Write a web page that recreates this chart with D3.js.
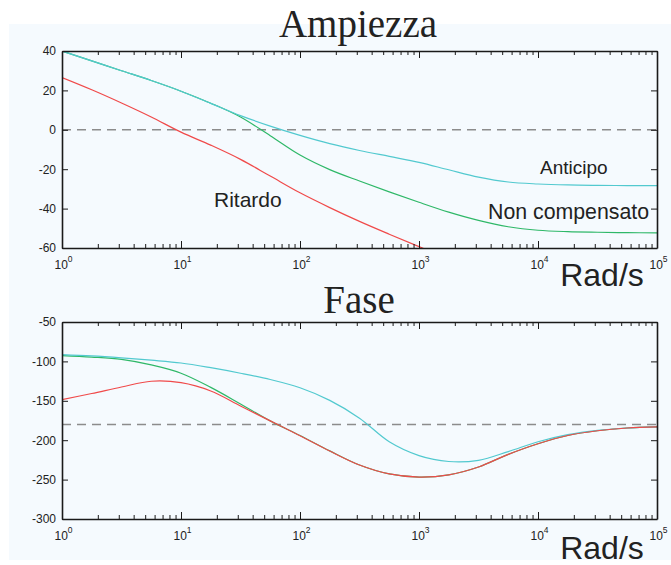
<!DOCTYPE html>
<html>
<head>
<meta charset="utf-8">
<script src="https://cdn.jsdelivr.net/npm/d3@7"></script>
<style>
  html, body { margin: 0; padding: 0; background: #ffffff; }
  svg { display: block; }
</style>
</head>
<body>
<svg id="chart" width="671" height="565"></svg>
<script>
// Frequencies in rad/s (quarter-decade steps)
const freq = [1, 1.778, 3.162, 5.623, 10, 17.78, 31.62, 56.23, 100, 177.8, 316.2, 562.3,
              1000, 1778, 3162, 5623, 10000, 17783, 31623, 56234, 100000];

// Magnitude (dB)
const magNonCompensato = [40, 35, 30, 25, 19.6, 13.5, 6.5, -3, -12.8, -20.2, -26, -31.5,
                          -36.8, -41.8, -46, -49.2, -51, -51.7, -52, -52.2, -52.3];
const magAnticipo = [40, 35, 30, 25, 19.6, 13.4, 7.2, 1.9, -2.8, -7, -10.5, -13.5,
                     -16.5, -20.3, -24, -26.5, -27.5, -28, -28.2, -28.3, -28.3];
const magRitardo = [26.5, 20.3, 13.6, 6.5, -1.2, -7.8, -15, -23.5, -32, -39.5, -46.5, -53,
                    -59.3, -65.5, null, null, null, null, null, null, null];

// Phase (degrees)
const phaseNonCompensato = [-92.6, -94.5, -97.5, -104.5, -115, -133, -154, -175.5, -194, -213.5, -231.5, -242.8,
                            -246.8, -244, -234, -218, -204.5, -194, -188, -184.5, -183];
const phaseAnticipo = [-91.3, -93, -95.5, -98.5, -102, -108, -115, -123, -133.5, -149.5, -172, -202,
                       -219.5, -227, -225.5, -214.5, -202, -193, -187.5, -184.5, -183];
const phaseRitardo = [-148.4, -140.7, -132.5, -125.2, -127, -137.5, -156.5, -175.5, -194.3, -213.8, -231.5, -242.8,
                      -246.8, -244, -234, -218, -204.5, -194, -188, -184.5, -183];

const xTicks = [1, 10, 100, 1000, 10000, 100000];
const xExponents = ["0", "1", "2", "3", "4", "5"];
const magTicks = [40, 20, 0, -20, -40, -60];
const phaseTicks = [-50, -100, -150, -200, -250, -300];

const colors = { anticipo: "#52c9cf", nonComp: "#2fb868", ritardo: "#f04a4a" };

const svg = d3.select("#chart");

// light panel behind both plots
svg.append("rect").attr("x", 9).attr("y", 24).attr("width", 662).attr("height", 536)
  .attr("fill", "#f5fafe");

const x = d3.scaleLog().domain([1, 1e5]).range([62, 657]);
const minorTicks = [];
for (let d = 1; d < 1e5; d *= 10) for (let k = 2; k <= 9; k++) minorTicks.push(d * k);

function panel(opts) {
  const { y, yTicks, top, bottom, series, refValue, id } = opts;
  const g = svg.append("g");
  const left = 62, right = 657;

  // clip region for curves
  svg.append("clipPath").attr("id", id).append("rect")
    .attr("x", left).attr("y", top).attr("width", right - left).attr("height", bottom - top);

  // reference dashed line
  g.append("line")
    .attr("x1", left).attr("x2", right)
    .attr("y1", y(refValue)).attr("y2", y(refValue))
    .attr("stroke", "#8c8c8c").attr("stroke-width", 1.6)
    .attr("stroke-dasharray", "9,6");

  // curves
  const line = d3.line()
    .defined(d => d[1] !== null)
    .x(d => x(d[0])).y(d => y(d[1]))
    .curve(d3.curveCatmullRom.alpha(0.5));
  series.forEach(s => {
    g.append("path")
      .datum(freq.map((f, i) => [f, s.values[i]]))
      .attr("clip-path", `url(#${id})`)
      .attr("fill", "none").attr("stroke", s.color).attr("stroke-width", 1.2)
      .attr("d", line);
  });

  const axisStyle = sel => {
    sel.select(".domain").attr("stroke", "#1a1a1a").attr("stroke-width", 1.6);
    sel.selectAll(".tick line").attr("stroke", "#1a1a1a").attr("stroke-width", 1);
  };

  // bottom axis: major + minor inward ticks, labels as 10^n
  const bAxis = g.append("g").attr("transform", `translate(0,${bottom})`)
    .call(d3.axisBottom(x).tickValues(xTicks).tickSizeInner(-7).tickSizeOuter(0).tickFormat(() => ""))
    .call(axisStyle);
  g.append("g").attr("transform", `translate(0,${bottom})`)
    .call(d3.axisBottom(x).tickValues(minorTicks).tickSizeInner(-4).tickSizeOuter(0).tickFormat(() => ""))
    .call(axisStyle).call(s => s.select(".domain").remove());
  bAxis.selectAll(".tick").each(function (d, i) {
    const t = d3.select(this).append("text")
      .attr("x", -8).attr("y", 21)
      .attr("fill", "#222").attr("font-family", "Liberation Sans, Arial, sans-serif")
      .attr("font-size", 12).attr("text-anchor", "start");
    t.append("tspan").text("10");
    t.append("tspan").attr("dy", -7).attr("font-size", 8.5).text(xExponents[i]);
  });

  // top axis (mirror ticks)
  g.append("g").attr("transform", `translate(0,${top})`)
    .call(d3.axisTop(x).tickValues(xTicks).tickSizeInner(-7).tickSizeOuter(0).tickFormat(() => ""))
    .call(axisStyle);
  g.append("g").attr("transform", `translate(0,${top})`)
    .call(d3.axisTop(x).tickValues(minorTicks).tickSizeInner(-4).tickSizeOuter(0).tickFormat(() => ""))
    .call(axisStyle).call(s => s.select(".domain").remove());

  // left axis
  const lAxis = g.append("g").attr("transform", `translate(${left},0)`)
    .call(d3.axisLeft(y).tickValues(yTicks).tickSizeInner(-6).tickSizeOuter(0).tickPadding(6)
      .tickFormat(d => String(d)))
    .call(axisStyle);
  lAxis.selectAll(".tick text")
    .attr("fill", "#222").attr("font-family", "Liberation Sans, Arial, sans-serif").attr("font-size", 12);

  // right axis
  g.append("g").attr("transform", `translate(${right},0)`)
    .call(d3.axisRight(y).tickValues(yTicks).tickSizeInner(-6).tickSizeOuter(0).tickFormat(() => ""))
    .call(axisStyle);

  return g;
}

const yMag = d3.scaleLinear().domain([-60, 40]).range([248, 51]);
const yPhase = d3.scaleLinear().domain([-300, -50]).range([519, 322]);

panel({
  id: "clipMag", y: yMag, yTicks: magTicks, top: 51, bottom: 248, refValue: 0,
  series: [
    { values: magNonCompensato, color: colors.nonComp },
    { values: magAnticipo, color: colors.anticipo },
    { values: magRitardo, color: colors.ritardo }
  ]
});

panel({
  id: "clipPhase", y: yPhase, yTicks: phaseTicks, top: 322, bottom: 519, refValue: -180,
  series: [
    { values: phaseNonCompensato, color: colors.nonComp },
    { values: phaseAnticipo, color: colors.anticipo },
    { values: phaseRitardo, color: colors.ritardo }
  ]
});

// titles
const serif = "Liberation Serif, Times New Roman, serif";
const sans = "Liberation Sans, Arial, sans-serif";
svg.append("text").attr("x", 358).attr("y", 37).attr("text-anchor", "middle")
  .attr("font-family", serif).attr("font-size", 39).attr("fill", "#222").text("Ampiezza");
svg.append("text").attr("x", 359).attr("y", 313).attr("text-anchor", "middle")
  .attr("font-family", serif).attr("font-size", 39).attr("fill", "#222").text("Fase");

// axis unit labels
svg.append("text").attr("x", 602).attr("y", 286).attr("text-anchor", "middle")
  .attr("font-family", sans).attr("font-size", 32).attr("fill", "#222").text("Rad/s");
svg.append("text").attr("x", 602).attr("y", 559).attr("text-anchor", "middle")
  .attr("font-family", sans).attr("font-size", 32).attr("fill", "#222").text("Rad/s");

// curve names
svg.append("text").attr("x", 540).attr("y", 174).attr("font-family", sans)
  .attr("font-size", 19).attr("fill", "#222").text("Anticipo");
svg.append("text").attr("x", 488).attr("y", 219).attr("font-family", sans)
  .attr("font-size", 21.3).attr("fill", "#222").text("Non compensato");
svg.append("text").attr("x", 214).attr("y", 207).attr("font-family", sans)
  .attr("font-size", 21).attr("fill", "#222").text("Ritardo");
</script>
</body>
</html>
